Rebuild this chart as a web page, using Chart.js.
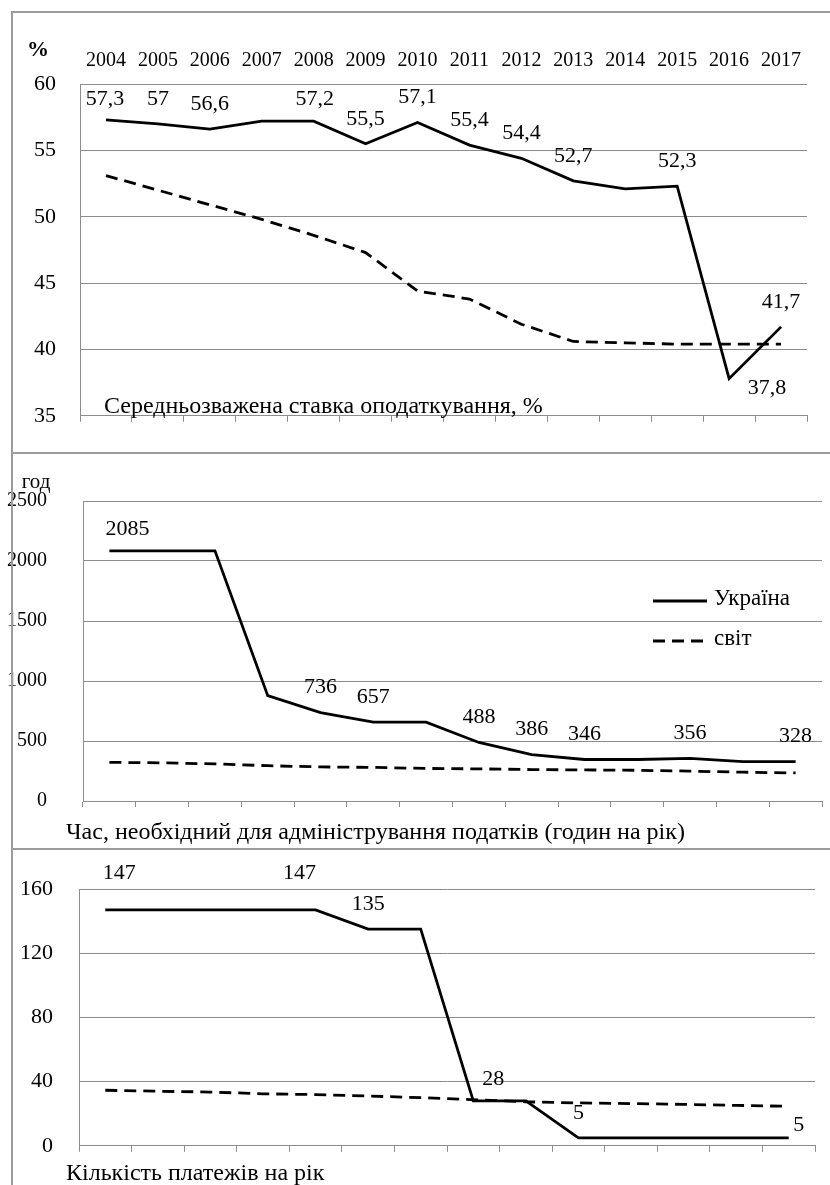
<!DOCTYPE html>
<html>
<head>
<meta charset="utf-8">
<script src="https://cdn.jsdelivr.net/npm/chart.js@4.4.0/dist/chart.umd.min.js"></script>
<style>
  body { margin: 0; background: #fff; }
  #page { position: relative; width: 830px; height: 1185px; overflow: hidden; background: #fff; }
  canvas { position: absolute; left: 0; }
  .frame { position: absolute; background: #9c9c9c; }
</style>
</head>
<body>
<div id="page">
  <canvas id="rate" style="top:0"></canvas>
  <canvas id="hours" style="top:453px"></canvas>
  <canvas id="payments" style="top:849px"></canvas>
  <div class="frame" style="left:11px;top:11px;width:2px;height:1174px"></div>
  <div class="frame" style="left:11px;top:11px;width:819px;height:2px"></div>
  <div class="frame" style="left:11px;top:452px;width:819px;height:2px"></div>
  <div class="frame" style="left:11px;top:848px;width:819px;height:2px"></div>
</div>
<script>
const years = ["2004", "2005", "2006", "2007", "2008", "2009", "2010",
  "2011", "2012", "2013", "2014", "2015", "2016", "2017"];

// Середньозважена ставка оподаткування, %
const rateUkraine = [57.3, 57, 56.6, 57.2, 57.2, 55.5, 57.1, 55.4, 54.4, 52.7, 52.1, 52.3, 37.8, 41.7];
const rateWorld = [53.1, 52.0, 50.9, 49.8, 48.6, 47.3, 44.4, 43.8, 41.9, 40.6, 40.5, 40.4, 40.4, 40.4];
const rateTicks = [35, 60, 5];

// Час на адміністрування податків, годин на рік
const hoursUkraine = [2085, 2085, 2085, 878, 736, 657, 657, 488, 386, 346, 346, 356, 328, 328];
const hoursWorld = [322, 318, 309, 294, 284, 280, 271, 268, 262, 259, 256, 249, 240, 234];
const hoursTicks = [0, 2500, 500];

// Кількість платежів на рік
const paymentsUkraine = [147, 147, 147, 147, 147, 135, 135, 28, 28, 5, 5, 5, 5, 5];
const paymentsWorld = [34.6, 34.0, 33.5, 32.4, 31.9, 31.0, 30.0, 28.7, 27.4, 26.7, 26.3, 25.8, 25.2, 24.6];
const paymentsTicks = [0, 160, 40];

const seriesNames = ["Україна", "світ"];

const SERIF = "'Liberation Serif', 'Times New Roman', serif";
const GRID = "#8c8c8c";

// value labels above the Ukraine line (only the points Excel labelled)
const valueLabels = {
  id: "valueLabels",
  afterDatasetsDraw(chart, args, opts) {
    if (!opts.indices) return;
    const meta = chart.getDatasetMeta(0);
    const data = chart.data.datasets[0].data;
    const ctx = chart.ctx;
    ctx.save();
    ctx.font = "22px " + SERIF;
    ctx.fillStyle = "#000";
    ctx.textAlign = "center";
    ctx.textBaseline = "middle";
    opts.indices.forEach((i) => {
      const pt = meta.data[i];
      const off = (opts.offsets && opts.offsets[i]) || [0, -25];
      ctx.fillText(String(data[i]).replace(".", ","), pt.x + off[0], pt.y + off[1]);
    });
    ctx.restore();
  },
};

// free text (axis units, captions)
const notes = {
  id: "notes",
  afterDraw(chart, args, opts) {
    if (!opts.items) return;
    const ctx = chart.ctx;
    ctx.save();
    ctx.fillStyle = "#000";
    ctx.textBaseline = "middle";
    opts.items.forEach((n) => {
      ctx.font = n.font || "24px " + SERIF;
      ctx.textAlign = n.align || "left";
      ctx.fillText(n.text, n.x, n.y);
    });
    ctx.restore();
  },
};

// legend drawn inside the plot like in the Excel original
const lineKey = {
  id: "lineKey",
  afterDraw(chart, args, opts) {
    if (!opts.show) return;
    const ctx = chart.ctx;
    ctx.save();
    chart.data.datasets.forEach((ds, i) => {
      const y = opts.y + i * opts.gap;
      ctx.strokeStyle = ds.borderColor;
      ctx.lineWidth = ds.borderWidth;
      ctx.setLineDash(ds.borderDash || []);
      ctx.beginPath();
      ctx.moveTo(opts.x, y);
      ctx.lineTo(opts.x + opts.len, y);
      ctx.stroke();
      ctx.setLineDash([]);
      ctx.fillStyle = "#000";
      ctx.font = "23px " + SERIF;
      ctx.textBaseline = "middle";
      ctx.fillText(ds.label, opts.x + opts.len + 7, y - 2);
    });
    ctx.restore();
  },
};

function makePanel(id, cfg) {
  const canvas = document.getElementById(id);
  canvas.width = 830;
  canvas.height = cfg.height;

  const scales = {
    x: {
      offset: true,
      grid: { offset: true, drawOnChartArea: false, color: GRID, tickLength: 6 },
      border: { color: GRID },
      ticks: { display: false },
      afterFit: (s) => { s.height = cfg.bottom; },
    },
    y: {
      min: cfg.ticks[0],
      max: cfg.ticks[1],
      ticks: {
        stepSize: cfg.ticks[2],
        color: "#000",
        font: { family: SERIF, size: cfg.tickSize },
        padding: cfg.tickPad,
        callback: (v) => String(v),
      },
      grid: { color: GRID, drawTicks: false },
      border: { color: GRID },
      afterFit: (s) => { s.width = cfg.left; },
    },
  };
  if (cfg.topYears) {
    scales.x2 = {
      type: "category",
      position: "top",
      labels: years,
      offset: true,
      grid: { display: false, drawTicks: false },
      border: { display: false },
      ticks: { color: "#000", font: { family: SERIF, size: 20 }, padding: 11, maxRotation: 0, autoSkip: false },
      afterFit: (s) => { s.height = cfg.top; },
    };
  }

  new Chart(canvas, {
    type: "line",
    data: {
      labels: years,
      datasets: [
        {
          label: seriesNames[0],
          data: cfg.ukraine,
          borderColor: "#000",
          borderWidth: 2.8,
          pointRadius: 0,
          tension: 0,
        },
        {
          label: seriesNames[1],
          data: cfg.world,
          borderColor: "#000",
          borderWidth: 2.8,
          borderDash: [12, 7],
          pointRadius: 0,
          tension: 0,
        },
      ],
    },
    options: {
      responsive: false,
      animation: false,
      layout: { padding: { left: 0, right: 830 - cfg.right, top: cfg.topYears ? 0 : cfg.top, bottom: 0 } },
      scales: scales,
      plugins: {
        legend: { display: false },
        tooltip: { enabled: false },
        valueLabels: { indices: cfg.labelled, offsets: cfg.offsets },
        notes: { items: cfg.notes },
        lineKey: cfg.key || { show: false },
      },
    },
    plugins: [valueLabels, notes, lineKey],
  });
}

makePanel("rate", {
  height: 453,
  top: 84, bottom: 16, left: 80, right: 807,
  topYears: true,
  ticks: rateTicks, tickSize: 22, tickPad: 24,
  ukraine: rateUkraine, world: rateWorld,
  labelled: [0, 1, 2, 4, 5, 6, 7, 8, 9, 11, 12, 13],
  offsets: { 0: [-1, -21], 4: [1, -22], 12: [38, 10] },
  notes: [
    { text: "%", x: 38, y: 50, align: "center", font: "bold 22px " + SERIF },
    { text: "Середньозважена ставка оподаткування, %", x: 104, y: 407 },
  ],
});

makePanel("hours", {
  height: 396,
  top: 45, bottom: 42, left: 83, right: 822,
  ticks: hoursTicks, tickSize: 20, tickPad: 36,
  ukraine: hoursUkraine, world: hoursWorld,
  labelled: [0, 4, 5, 7, 8, 9, 11, 13],
  offsets: { 0: [18, -22] },
  key: { show: true, x: 653, y: 148, gap: 40, len: 54 },
  notes: [
    { text: "год", x: 36, y: 29, align: "center", font: "21px " + SERIF },
    { text: "Час, необхідний для адміністрування податків (годин на рік)", x: 66, y: 380 },
  ],
});

makePanel("payments", {
  height: 336,
  top: 40, bottom: 31, left: 79, right: 815,
  ticks: paymentsTicks, tickSize: 22, tickPad: 26,
  ukraine: paymentsUkraine, world: paymentsWorld,
  labelled: [0, 4, 5, 7, 9, 13],
  offsets: { 0: [14, -37], 4: [-16, -37], 7: [20, -22], 13: [10, -13] },
  notes: [
    { text: "Кількість платежів на рік", x: 66, y: 325 },
  ],
});
</script>
</body>
</html>
